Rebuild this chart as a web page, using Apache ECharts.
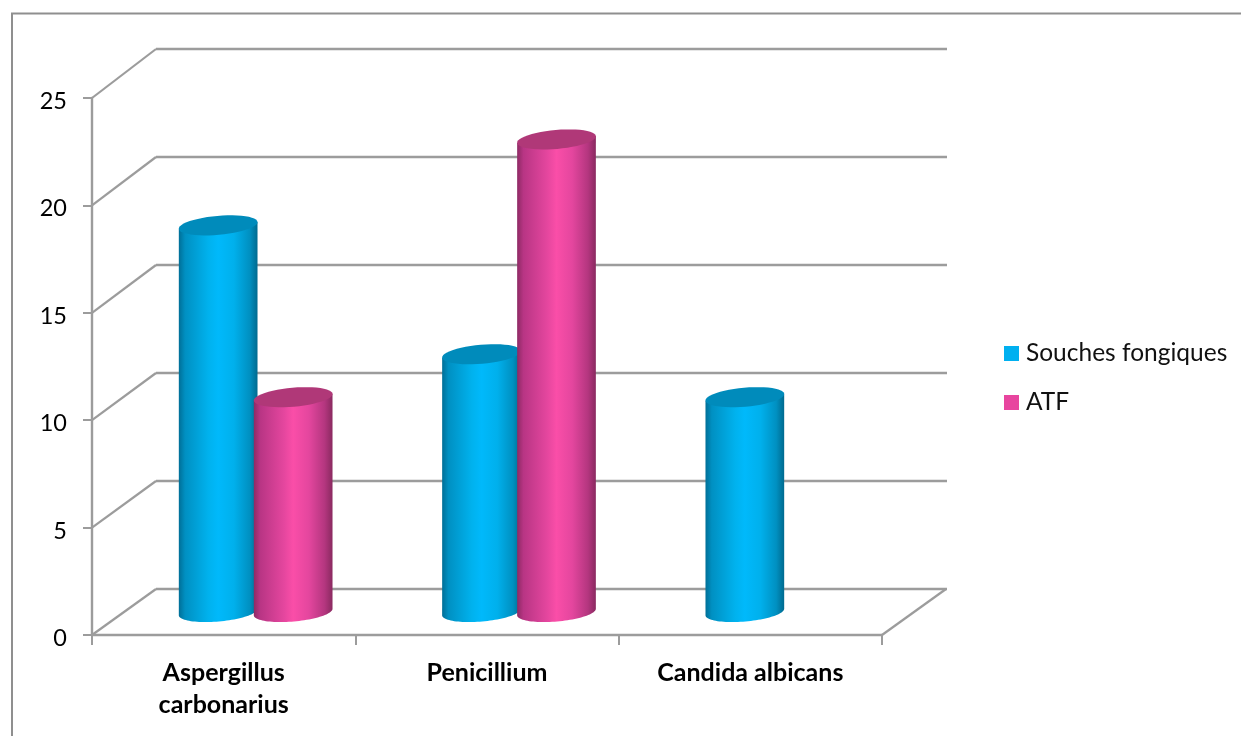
<!DOCTYPE html>
<html>
<head>
<meta charset="utf-8">
<style>html,body{margin:0;padding:0;background:#fff}#chart{width:1241px;height:736px}</style>
<script src="https://cdn.jsdelivr.net/npm/echarts@6/dist/echarts.min.js"></script>
</head>
<body>
<div id="chart"></div>
<script>
const categories = ['Aspergillus\ncarbonarius', 'Penicillium', 'Candida albicans'];
const souchesFongiques = [18, 12, 10];
const atf = [10, 22, null];
const valueTicks = [0, 5, 10, 15, 20, 25];

const FONT = 'Lato';
const LINE = '#9c9c9c';
// Oblique projection of the plot floor: how far the back wall sits from the front plane.
const DEPTH_X = 64;
const depthRise = v => 46 + v * 0.12;
const BAR_DEPTH_X = 32, BAR_DEPTH_Y = -23;
const BAR_SHIFT = 37.5, RX = 39.5, RY = 9.5, TILT = -5 * Math.PI / 180;

function ellipsePoints(cx, cy, from, to) {
  const pts = [], n = 48;
  for (let i = 0; i <= n; i++) {
    const t = from + (to - from) * i / n;
    const x = RX * Math.cos(t), y = RY * Math.sin(t);
    pts.push([cx + x * Math.cos(TILT) - y * Math.sin(TILT), cy + x * Math.sin(TILT) + y * Math.cos(TILT)]);
  }
  return pts;
}

function sideGradient(stops) {
  return { type: 'linear', x: 0, y: 0, x2: 1, y2: 0,
    colorStops: stops.map(s => ({ offset: s[0], color: s[1] })) };
}

const blueBody = sideGradient([[0, '#006f97'], [0.08, '#0090c2'], [0.38, '#00b2ee'], [0.5, '#00b9fb'], [0.7, '#00b0ec'], [0.9, '#0090c1'], [1, '#006a8f']]);
const pinkBody = sideGradient([[0, '#8e2a64'], [0.08, '#b83584'], [0.38, '#e4469e'], [0.5, '#fa4ea8'], [0.7, '#e4469e'], [0.9, '#b4367f'], [1, '#8a2a60']]);

// Draws one cylinder from the category band and the value scale.
function cylinder(shift, bodyFill, topFill) {
  return function (params, api) {
    const v = api.value(1);
    if (v == null || isNaN(v)) return null;
    const cat = api.value(0);
    const top = api.coord([cat, v]);
    const base = api.coord([cat, 0]);
    const cx = top[0] + BAR_DEPTH_X + shift;
    const topY = top[1] + BAR_DEPTH_Y;
    const baseY = base[1] + BAR_DEPTH_Y;
    // The side runs up to the cap's major axis; the cap then covers the seam.
    const body = ellipsePoints(cx, baseY, Math.PI, 0);
    const upper = ellipsePoints(cx, topY, 0, Math.PI);
    return {
      type: 'group',
      children: [
        { type: 'polygon', shape: { points: body.concat([upper[0], upper[upper.length - 1]]) }, style: { fill: bodyFill } },
        { type: 'polygon', shape: { points: ellipsePoints(cx, topY, 0, Math.PI * 2) }, style: { fill: topFill } }
      ]
    };
  };
}

// Diagonal edges joining the left wall to the back wall, plus the right edge of the floor.
function wallEdge(params, api) {
  const v = api.value(0);
  const band = api.size([1, 0])[0];
  const left = api.coord([0, v]);
  const x0 = left[0] - band / 2;
  const seg = (x) => ({
    type: 'line',
    shape: { x1: x, y1: left[1], x2: x + DEPTH_X, y2: left[1] - depthRise(v) },
    style: { stroke: LINE, lineWidth: 2.2 }
  });
  const children = [seg(x0)];
  if (v === 0) children.push(seg(x0 + band * categories.length));
  return { type: 'group', children };
}

const chart = echarts.init(document.getElementById('chart'), null, { renderer: 'canvas' });
chart.setOption({
  animation: false,
  backgroundColor: '#ffffff',
  textStyle: { fontFamily: FONT },
  graphic: [{
    type: 'rect', silent: true, z: -10,
    shape: { x: 12, y: 13.5, width: 1400, height: 900 },
    style: { fill: 'none', stroke: '#8f8f8f', lineWidth: 2 }
  }],
  legend: {
    icon: 'rect',
    orient: 'vertical', left: 999, top: 335, itemWidth: 15, itemHeight: 15, itemGap: 22,
    data: ['Souches fongiques', 'ATF'],
    textStyle: { fontFamily: FONT, fontSize: 24.5, color: '#111', padding: [0, 0, 0, 2], lineHeight: 27 },
    itemStyle: { borderWidth: 0 }
  },
  grid: [
    { left: 92, right: 359, top: 98, bottom: 101 },
    { left: 156, right: 294, top: 49, bottom: 147 }
  ],
  xAxis: [
    { type: 'category', gridIndex: 0, data: categories,
      axisLine: { lineStyle: { color: LINE, width: 2.4 } },
      axisTick: { show: true, alignWithLabel: false, length: 10, lineStyle: { color: LINE, width: 2 } },
      axisLabel: { fontFamily: FONT, fontSize: 25, fontWeight: 'bold', color: '#000', margin: 22, lineHeight: 32, interval: 0 } },
    { type: 'category', gridIndex: 1, data: categories, show: false }
  ],
  yAxis: [
    { type: 'value', gridIndex: 0, min: 0, max: 25, interval: 5,
      axisLine: { show: true, lineStyle: { color: LINE, width: 2.4 } },
      axisTick: { show: true, length: 9, lineStyle: { color: LINE, width: 2 } },
      axisLabel: { fontFamily: FONT, fontSize: 23.5, color: '#000', margin: 25, verticalAlign: 'top', lineHeight: 7 },
      splitLine: { show: false } },
    { type: 'value', gridIndex: 1, min: 0, max: 25, interval: 5,
      axisLine: { show: false }, axisTick: { show: false }, axisLabel: { show: false },
      splitLine: { show: true, lineStyle: { color: LINE, width: 2.4 } } }
  ],
  series: [
    { name: 'wall-edges', type: 'custom', xAxisIndex: 0, yAxisIndex: 0, silent: true, z: 1,
      data: valueTicks.map(v => [v]), encode: { x: -1, y: 0 }, renderItem: wallEdge, legendHoverLink: false },
    { name: 'Souches fongiques', type: 'custom', xAxisIndex: 0, yAxisIndex: 0, z: 3,
      itemStyle: { color: '#00b0f0' },
      data: souchesFongiques.map((v, i) => [i, v]), encode: { x: 0, y: 1 },
      renderItem: cylinder(-BAR_SHIFT, blueBody, '#008bbb') },
    { name: 'ATF', type: 'custom', xAxisIndex: 0, yAxisIndex: 0, z: 4,
      itemStyle: { color: '#e8459f' },
      data: atf.map((v, i) => [i, v]), encode: { x: 0, y: 1 },
      renderItem: cylinder(BAR_SHIFT, pinkBody, '#b03878') }
  ]
});
</script>
</body>
</html>
